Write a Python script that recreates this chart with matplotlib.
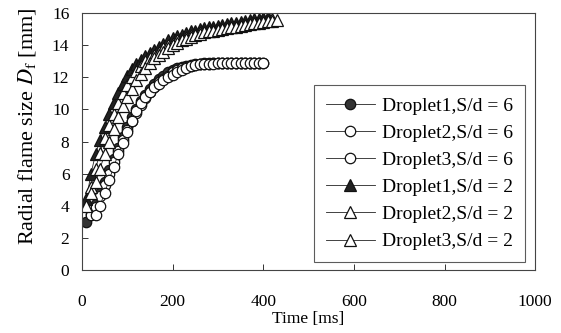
import numpy as np
import matplotlib
matplotlib.use("Agg")
import matplotlib.pyplot as plt

plt.rcParams['font.family'] = ['Liberation Serif', 'DejaVu Serif']
plt.rcParams['mathtext.fontset'] = 'stix'

# flame size vs time, S/d = 6 (circles) and S/d = 2 (triangles)
t_d1_s6 = [10, 20, 30, 40, 50, 60, 70, 80, 90, 100, 110, 120, 130, 140, 150, 160, 170, 180, 190, 200,
           210, 220, 230, 240, 250, 260, 270, 280, 290, 300, 310, 320, 330, 340, 350, 360, 370, 380, 390]
d_d1_s6 = [3.0, 3.5, 4.1, 4.8, 5.5, 6.2, 6.9, 7.6, 8.3, 8.9, 9.5, 10.0, 10.5, 10.9, 11.3, 11.6, 11.9, 12.1, 12.3, 12.45,
           12.55, 12.65, 12.72, 12.78, 12.82, 12.85, 12.87, 12.88, 12.89, 12.9, 12.9, 12.9, 12.9, 12.9, 12.9, 12.9, 12.9, 12.9, 12.9]

t_d2_s6 = [20, 30, 40, 50, 60, 70, 80, 90, 100, 110, 120, 130, 140, 150, 160, 170, 180, 190, 200, 210,
           220, 230, 240, 250, 260, 270, 280, 290, 300, 310, 320, 330, 340, 350, 360, 370, 380, 390, 400]
d_d2_s6 = [3.4, 3.9, 4.6, 5.3, 6.0, 6.7, 7.4, 8.1, 8.7, 9.3, 9.8, 10.3, 10.7, 11.1, 11.4, 11.7, 11.9, 12.1, 12.3, 12.45,
           12.55, 12.65, 12.7, 12.75, 12.8, 12.83, 12.85, 12.87, 12.88, 12.88, 12.89, 12.9, 12.9, 12.9, 12.9, 12.9, 12.9, 12.9, 12.9]

t_d3_s6 = [30, 40, 50, 60, 70, 80, 90, 100, 110, 120, 130, 140, 150, 160, 170, 180, 190, 200, 210, 220,
           230, 240, 250, 260, 270, 280, 290, 300, 310, 320, 330, 340, 350, 360, 370, 380, 390, 400]
d_d3_s6 = [3.4, 4.0, 4.8, 5.6, 6.4, 7.2, 7.9, 8.6, 9.3, 9.9, 10.4, 10.8, 11.1, 11.4, 11.6, 11.8, 12.0, 12.15, 12.3, 12.45,
           12.6, 12.7, 12.75, 12.8, 12.83, 12.85, 12.85, 12.86, 12.86, 12.87, 12.87, 12.87, 12.88, 12.88, 12.88, 12.88, 12.88, 12.88]

t_d1_s2 = [10, 20, 30, 40, 50, 60, 70, 80, 90, 100, 110, 120, 130, 140, 150, 160, 170, 180, 190, 200, 210,
           220, 230, 240, 250, 260, 270, 280, 290, 300, 310, 320, 330, 340, 350, 360, 370, 380, 390, 400, 410]
d_d1_s2 = [4.4, 6.0, 7.2, 8.1, 8.9, 9.7, 10.4, 11.0, 11.6, 12.1, 12.5, 12.8, 13.1, 13.3, 13.5, 13.7, 13.9, 14.1, 14.3, 14.45, 14.55,
           14.65, 14.75, 14.85, 14.9, 15.0, 15.05, 15.1, 15.15, 15.2, 15.25, 15.3, 15.35, 15.4, 15.45, 15.5, 15.55, 15.6, 15.65, 15.7, 15.75]

t_d2_s2 = [10, 20, 30, 40, 50, 60, 70, 80, 90, 100, 110, 120, 130, 140, 150, 160, 170, 180, 190, 200, 210,
           220, 230, 240, 250, 260, 270, 280, 290, 300, 310, 320, 330, 340, 350, 360, 370, 380, 390, 400, 410, 420]
d_d2_s2 = [4.0, 5.2, 6.3, 7.3, 8.2, 9.0, 9.7, 10.4, 11.0, 11.5, 12.0, 12.4, 12.7, 13.0, 13.2, 13.4, 13.6, 13.8, 14.0, 14.15, 14.3,
           14.4, 14.5, 14.6, 14.7, 14.8, 14.85, 14.9, 14.95, 15.0, 15.05, 15.1, 15.15, 15.2, 15.25, 15.3, 15.35, 15.4, 15.45, 15.5, 15.55, 15.6]

t_d3_s2 = [20, 30, 40, 50, 60, 70, 80, 90, 100, 110, 120, 130, 140, 150, 160, 170, 180, 190, 200, 210, 220,
           230, 240, 250, 260, 270, 280, 290, 300, 310, 320, 330, 340, 350, 360, 370, 380, 390, 400, 410, 420, 430]
d_d3_s2 = [4.8, 5.5, 6.3, 7.2, 8.0, 8.8, 9.5, 10.2, 10.8, 11.3, 11.8, 12.2, 12.6, 12.9, 13.2, 13.4, 13.6, 13.8, 14.0, 14.15, 14.3,
           14.4, 14.5, 14.6, 14.7, 14.8, 14.85, 14.9, 14.95, 15.0, 15.05, 15.1, 15.15, 15.2, 15.25, 15.3, 15.35, 15.4, 15.45, 15.5, 15.5, 15.55]

labels = ['Droplet1,S/d = 6', 'Droplet2,S/d = 6', 'Droplet3,S/d = 6',
          'Droplet1,S/d = 2', 'Droplet2,S/d = 2', 'Droplet3,S/d = 2']

series = [(t_d1_s6, d_d1_s6, 'o', '#333333'),
          (t_d2_s6, d_d2_s6, 'o', 'white'),
          (t_d3_s6, d_d3_s6, 'o', 'white'),
          (t_d1_s2, d_d1_s2, '^', '#222222'),
          (t_d2_s2, d_d2_s2, '^', 'white'),
          (t_d3_s2, d_d3_s2, '^', 'white')]

fig = plt.figure(figsize=(5.61, 3.33), dpi=100)
ax = fig.add_axes([0.146, 0.189, 0.808, 0.772])

for (t, d, m, fc), lab in zip(series, labels):
    ms = 7.5 if m == 'o' else 8.5
    ax.plot(t, d, marker=m, markersize=ms, markerfacecolor=fc, markeredgecolor='#111111',
            markeredgewidth=0.9, color='#222222', linewidth=0.6, label=lab)

ax.set_xlim(0, 1000)
ax.set_ylim(0, 16)
ax.set_xticks([0, 200, 400, 600, 800, 1000])
ax.set_yticks(np.arange(0, 17, 2))
ax.tick_params(axis='both', direction='in', length=4, width=0.7, labelsize=12.5, color='#333333')
ax.tick_params(axis='x', pad=17)
ax.tick_params(axis='y', pad=9)
for s in ax.spines.values():
    s.set_color('#444444')
    s.set_linewidth(0.8)

ax.set_xlabel('Time [ms]', fontsize=12.5)
ax.xaxis.set_label_coords(0.5, -0.16)
ax.set_ylabel(r'Radial flame size $D_\mathrm{f}$ [mm]', fontsize=16)
ax.yaxis.set_label_coords(-0.097, 0.56)

leg = ax.legend(loc='lower right', bbox_to_anchor=(0.978, 0.031), fontsize=14, frameon=True,
                fancybox=False, edgecolor='#333333', handlelength=2.5, handletextpad=0.4,
                labelspacing=0.49, borderpad=0.6, borderaxespad=0)
leg.get_frame().set_linewidth(0.8)

fig.savefig('out.png', dpi=100)
